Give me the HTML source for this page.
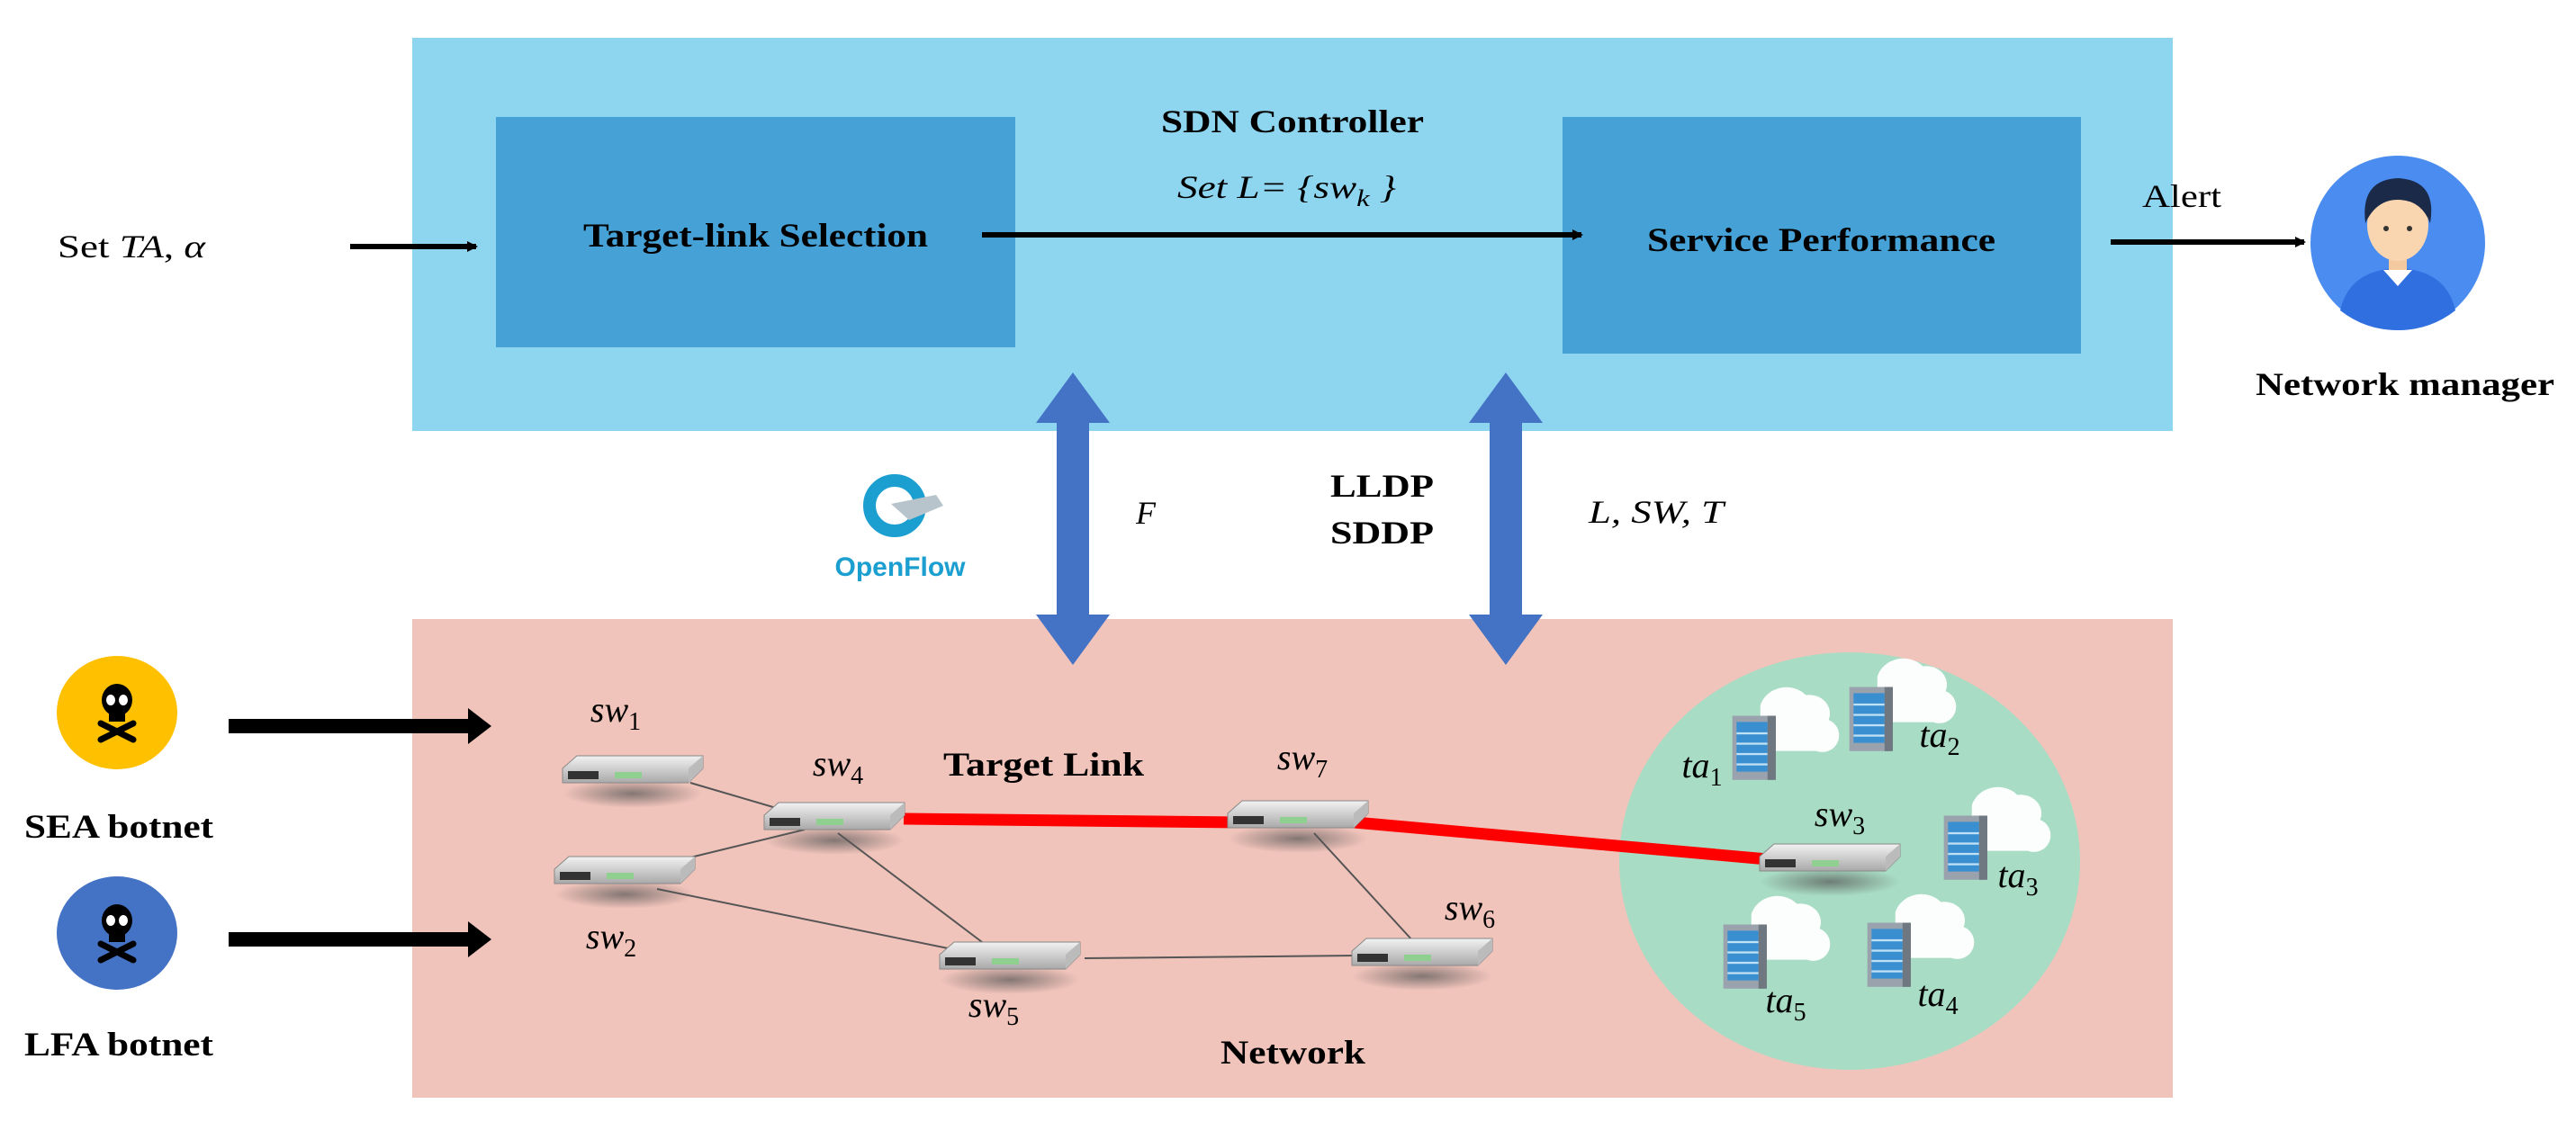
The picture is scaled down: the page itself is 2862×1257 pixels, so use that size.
<!DOCTYPE html>
<html><head><meta charset="utf-8"><style>
html,body{margin:0;padding:0;background:#fff;}
svg{display:block;}
.t{font-family:"Liberation Serif",serif;fill:#000;}
</style></head><body>
<svg width="2862" height="1257" viewBox="0 0 2862 1257" xmlns="http://www.w3.org/2000/svg">
<defs>
<marker id="ah" markerWidth="12" markerHeight="12" refX="10" refY="6" orient="auto" markerUnits="userSpaceOnUse"><path d="M0,0 L12,6 L0,12 Z" fill="#000"/></marker>
<linearGradient id="swg" x1="0" y1="0" x2="0" y2="1"><stop offset="0" stop-color="#f2f2f2"/><stop offset="1" stop-color="#a9a9a9"/></linearGradient>
<radialGradient id="shd"><stop offset="0" stop-color="#555" stop-opacity="0.7"/><stop offset="1" stop-color="#555" stop-opacity="0"/></radialGradient>
<g id="sw">
<ellipse cx="0" cy="20" rx="78" ry="16" fill="url(#shd)"/>
<path d="M-78,-8 L-62,-22 L78,-22 L78,-8 L62,8 L-78,8 Z" fill="url(#swg)" stroke="#888" stroke-width="1"/>
<path d="M62,-8 L78,-22 L78,-8 L62,8 Z" fill="#bbb"/>
<rect x="-72" y="-5" width="34" height="9" fill="#333"/>
<rect x="-20" y="-4" width="30" height="7" fill="#8fcf8f"/>
</g>
<g id="srv0">
<path d="M5,-40 a26,24 0 0 1 44,-10 a20,18 0 0 1 22,24 a16,16 0 0 1 -12,30 L5,4 Z" fill="#fff" opacity="0.95"/>
<rect x="-22" y="-30" width="40" height="62" fill="#9aa3ad"/>
<rect x="-18" y="-24" width="30" height="48" fill="#3a8fd0"/>
<rect x="-18" y="-14" width="30" height="2" fill="#bfe0f5"/><rect x="-18" y="-4" width="30" height="2" fill="#bfe0f5"/><rect x="-18" y="6" width="30" height="2" fill="#bfe0f5"/><rect x="-18" y="16" width="30" height="2" fill="#bfe0f5"/>
<rect x="12" y="-30" width="8" height="62" fill="#6f7880"/>
</g>
<g id="srv"><use href="#srv0" transform="scale(1.15)"/></g>
<g id="skull">
<ellipse cx="0" cy="-12" rx="17" ry="18" fill="#000"/>
<rect x="-9" y="0" width="18" height="12" fill="#000"/>
<ellipse cx="-7" cy="-12" rx="5" ry="6" fill="#fff"/><ellipse cx="7" cy="-12" rx="5" ry="6" fill="#fff"/>
<path d="M-18,14 L18,32 M18,14 L-18,32" stroke="#000" stroke-width="7" stroke-linecap="round"/>
</g>
</defs>

<!-- SDN controller box -->
<rect x="458" y="42" width="1956" height="437" fill="#8ed6f0"/>
<rect x="551" y="130" width="577" height="256" fill="#45a1d6"/>
<rect x="1736" y="130" width="576" height="263" fill="#45a1d6"/>
<text x="1290" y="147" class="t" font-size="36" font-weight="bold" textLength="292" lengthAdjust="spacingAndGlyphs">SDN Controller</text>
<text x="1308" y="220" class="t" font-size="36" font-style="italic" textLength="243" lengthAdjust="spacingAndGlyphs">Set L= {sw<tspan font-size="26" dy="9">k</tspan><tspan dy="-9"> }</tspan></text>
<text x="648" y="274" class="t" font-size="37" font-weight="bold" textLength="383" lengthAdjust="spacingAndGlyphs">Target-link Selection</text>
<text x="1830" y="279" class="t" font-size="37" font-weight="bold" textLength="387" lengthAdjust="spacingAndGlyphs">Service Performance</text>
<line x1="1091" y1="261" x2="1757" y2="261" stroke="#000" stroke-width="6" marker-end="url(#ah)"/>
<text x="64" y="286" class="t" font-size="36" textLength="164" lengthAdjust="spacingAndGlyphs">Set <tspan font-style="italic">TA</tspan>, <tspan font-style="italic">α</tspan></text>
<line x1="389" y1="274" x2="529" y2="274" stroke="#000" stroke-width="6" marker-end="url(#ah)"/>
<text x="2380" y="230" class="t" font-size="36" textLength="88" lengthAdjust="spacingAndGlyphs">Alert</text>
<line x1="2345" y1="269" x2="2560" y2="269" stroke="#000" stroke-width="6" marker-end="url(#ah)"/>

<!-- person -->
<circle cx="2664" cy="270" r="97" fill="#4a8cf0"/>
<path d="M2600,345 Q2610,300 2664,298 Q2718,300 2728,345 Q2700,367 2664,367 Q2628,367 2600,345 Z" fill="#2f6fe0"/>
<path d="M2648,300 L2664,318 L2680,300 Z" fill="#fff"/>
<rect x="2654" y="278" width="20" height="22" fill="#f3c9a0"/>
<ellipse cx="2664" cy="250" rx="34" ry="40" fill="#f9d6b0"/>
<path d="M2628,248 Q2622,200 2664,198 Q2708,200 2700,248 Q2690,222 2664,222 Q2640,222 2628,248 Z" fill="#1c2a4a"/>
<circle cx="2651" cy="254" r="3" fill="#333"/><circle cx="2677" cy="254" r="3" fill="#333"/>
<text x="2506" y="439" class="t" font-size="36" font-weight="bold" textLength="332" lengthAdjust="spacingAndGlyphs">Network manager</text>

<text x="1262" y="582" class="t" font-size="36" font-style="italic">F</text>
<text x="1478" y="552" class="t" font-size="36" font-weight="bold" textLength="115" lengthAdjust="spacingAndGlyphs">LLDP</text>
<text x="1478" y="604" class="t" font-size="36" font-weight="bold" textLength="115" lengthAdjust="spacingAndGlyphs">SDDP</text>
<text x="1765" y="581" class="t" font-size="36" font-style="italic" textLength="150" lengthAdjust="spacingAndGlyphs">L, SW, T</text>
<!-- OpenFlow logo -->
<circle cx="994" cy="562" r="28" fill="none" stroke="#1b9fd0" stroke-width="14"/>
<path d="M990,560 L1040,550 L1048,562 L1010,578 Z" fill="#b8c4cc"/>
<text x="1000" y="640" font-family="Liberation Sans,sans-serif" font-size="30" font-weight="bold" fill="#1b9fd0" text-anchor="middle">OpenFlow</text>

<!-- network box -->
<rect x="458" y="688" width="1956" height="532" fill="#f1c4bb"/>
<ellipse cx="2055" cy="957" rx="256" ry="232" fill="#a8dcc4"/>

<!-- double arrows -->
<g fill="#4472c4">
<path d="M1192,414 L1233,470 L1210,470 L1210,683 L1233,683 L1192,739 L1151,683 L1174,683 L1174,470 L1151,470 Z"/>
<path d="M1673,414 L1714,470 L1691,470 L1691,683 L1714,683 L1673,739 L1632,683 L1655,683 L1655,470 L1632,470 Z"/>
</g>

<!-- links -->
<g stroke="#555" stroke-width="2">
<line x1="767" y1="870" x2="876" y2="902"/>
<line x1="730" y1="962" x2="894" y2="922"/>
<line x1="931" y1="926" x2="1095" y2="1050"/>
<line x1="730" y1="988" x2="1068" y2="1057"/>
<line x1="1205" y1="1065" x2="1506" y2="1062"/>
<line x1="1460" y1="926" x2="1570" y2="1046"/>
</g>
<polyline points="1004,910 1378,914" stroke="#ff0000" stroke-width="13" fill="none"/>
<polyline points="1505,914 1975,956" stroke="#ff0000" stroke-width="13" fill="none"/>

<use href="#sw" x="703" y="862"/>
<use href="#sw" x="927" y="914"/>
<use href="#sw" x="694" y="974"/>
<use href="#sw" x="1442" y="912"/>
<use href="#sw" x="1122" y="1069"/>
<use href="#sw" x="1580" y="1065"/>
<use href="#sw" x="2033" y="960"/>

<use href="#srv" x="1950" y="830"/>
<use href="#srv" x="2080" y="798"/>
<use href="#srv" x="2185" y="941"/>
<use href="#srv" x="2100" y="1060"/>
<use href="#srv" x="1940" y="1062"/>

<g class="t" font-size="40" font-style="italic" text-anchor="middle">
<text x="684" y="802">sw<tspan font-size="28" dy="9" font-style="normal">1</tspan></text>
<text x="931" y="862">sw<tspan font-size="28" dy="9" font-style="normal">4</tspan></text>
<text x="679" y="1054">sw<tspan font-size="28" dy="9" font-style="normal">2</tspan></text>
<text x="1447" y="855">sw<tspan font-size="28" dy="9" font-style="normal">7</tspan></text>
<text x="1104" y="1130">sw<tspan font-size="28" dy="9" font-style="normal">5</tspan></text>
<text x="1633" y="1022">sw<tspan font-size="28" dy="9" font-style="normal">6</tspan></text>
<text x="2044" y="918">sw<tspan font-size="28" dy="9" font-style="normal">3</tspan></text>
<text x="1891" y="864">ta<tspan font-size="28" dy="9" font-style="normal">1</tspan></text>
<text x="2155" y="830">ta<tspan font-size="28" dy="9" font-style="normal">2</tspan></text>
<text x="2242" y="986">ta<tspan font-size="28" dy="9" font-style="normal">3</tspan></text>
<text x="2153" y="1118">ta<tspan font-size="28" dy="9" font-style="normal">4</tspan></text>
<text x="1984" y="1125">ta<tspan font-size="28" dy="9" font-style="normal">5</tspan></text>
</g>
<text x="1048" y="862" class="t" font-size="37" font-weight="bold" textLength="223" lengthAdjust="spacingAndGlyphs">Target Link</text>
<text x="1356" y="1182" class="t" font-size="37" font-weight="bold" textLength="161" lengthAdjust="spacingAndGlyphs">Network</text>

<!-- botnets -->
<ellipse cx="130" cy="792" rx="67" ry="63" fill="#ffc000"/>
<use href="#skull" x="130" y="790"/>
<ellipse cx="130" cy="1037" rx="67" ry="63" fill="#4472c4"/>
<use href="#skull" x="130" y="1035"/>
<text x="27" y="931" class="t" font-size="37" font-weight="bold" textLength="210" lengthAdjust="spacingAndGlyphs">SEA botnet</text>
<text x="27" y="1173" class="t" font-size="37" font-weight="bold" textLength="210" lengthAdjust="spacingAndGlyphs">LFA botnet</text>
<rect x="254" y="799" width="272" height="16" fill="#000"/>
<path d="M520,787 L546,807 L520,827 Z" fill="#000"/>
<rect x="254" y="1036" width="272" height="16" fill="#000"/>
<path d="M520,1024 L546,1044 L520,1064 Z" fill="#000"/>
</svg>
</body></html>
